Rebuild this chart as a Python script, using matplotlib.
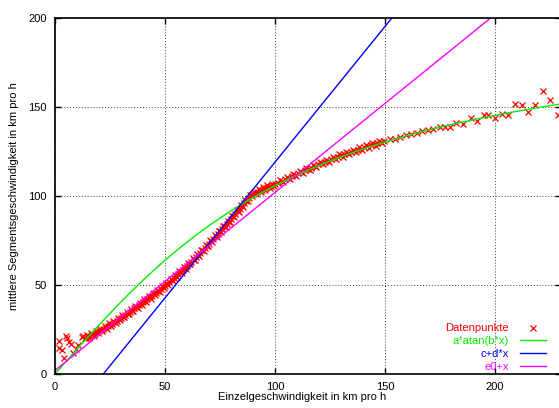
#!/usr/bin/env python

import numpy as np
import matplotlib
matplotlib.use('Agg')
import matplotlib.pyplot as plt

# measured points (Einzelgeschwindigkeit, mittlere Segmentgeschwindigkeit)
x_low = [1.8, 2.0, 3.0, 4.2, 5.0, 5.3, 6.5, 7.1, 8.3, 9.4, 10.6, 12.1, 12.6, 13.6]
y_low = [18.7, 14.5, 13.5, 8.8, 21.5, 20.5, 17.8, 16.9, 11.6, 13.9, 16.3, 21.0, 21.3, 20.2]

x_mid = [14, 15, 16, 17, 18, 19, 20, 21, 22, 23, 24, 25, 26, 27, 28, 29, 30,
         31, 32, 33, 34, 35, 36, 37, 38, 39, 40, 41, 42, 43, 44, 45, 46, 47,
         48, 49, 50, 51, 52, 53, 54, 55, 56, 57, 58, 59, 60, 61, 62, 63, 64,
         65, 66, 67, 68, 69, 70, 71, 72, 73, 74, 75, 76, 77, 78, 79, 80, 81,
         82, 83, 84, 85, 86, 87, 88, 89, 90, 91, 92, 93, 94, 95, 96, 97, 98,
         99, 100]
y_mid = [20.2, 20.8, 21.4, 22.3, 22.6, 23.5, 24.0, 24.6, 25.5, 25.9, 27.0,
         27.4, 28.3, 29.1, 29.8, 30.9, 31.6, 32.2, 33.4, 33.9, 35.1, 35.6,
         36.8, 37.5, 38.6, 39.2, 40.3, 41.1, 41.9, 43.0, 43.6, 44.9, 45.6,
         46.8, 47.5, 48.7, 49.6, 50.8, 51.6, 52.9, 53.7, 55.0, 55.9, 57.3,
         58.2, 59.6, 60.5, 62.0, 63.1, 64.3, 65.6, 66.8, 68.0, 69.4, 70.6,
         72.0, 73.3, 74.6, 76.0, 77.3, 78.7, 80.1, 81.4, 82.9, 84.2, 85.6,
         87.0, 88.5, 89.9, 91.4, 92.8, 94.3, 95.9, 97.4, 99.0, 100.3, 101.2,
         101.8, 102.5, 103.0, 103.6, 104.2, 104.6, 105.2, 105.6, 106.1, 106.6]

# second group of points in the dense band (half steps)
x_mid2 = [14.5, 15.5, 16.5, 17.5, 18.5, 19.5, 20.5, 21.5, 22.5, 23.5, 24.5,
          25.5, 26.5, 27.5, 28.5, 29.5, 30.5, 31.5, 32.5, 33.5, 34.5, 35.5,
          36.5, 37.5, 38.5, 39.5, 40.5, 41.5, 42.5, 43.5, 44.5, 45.5, 46.5,
          47.5, 48.5, 49.5, 50.5, 51.5, 52.5, 53.5, 54.5, 55.5, 56.5, 57.5,
          58.5, 59.5, 60.5, 61.5, 62.5, 63.5, 64.5, 65.5, 66.5, 67.5, 68.5,
          69.5, 70.5, 71.5, 72.5, 73.5, 74.5, 75.5, 76.5, 77.5, 78.5, 79.5,
          80.5, 81.5, 82.5, 83.5, 84.5, 85.5, 86.5, 87.5, 88.5, 89.5, 90.5,
          91.5, 92.5, 93.5, 94.5, 95.5, 96.5, 97.5, 98.5, 99.5]
y_mid2 = [21.7, 20.1, 23.0, 21.5, 24.3, 22.8, 25.5, 24.1, 26.9, 25.5, 28.4,
          26.9, 29.9, 28.5, 31.5, 30.3, 33.1, 31.8, 34.9, 33.5, 36.6, 35.2,
          38.4, 37.1, 40.1, 38.8, 41.9, 40.5, 43.7, 42.3, 45.5, 44.3, 47.4,
          46.2, 49.3, 48.2, 51.4, 50.2, 53.5, 52.3, 55.6, 54.5, 57.8, 56.8,
          60.1, 59.1, 62.5, 61.6, 64.9, 64.0, 67.4, 66.4, 69.9, 69.0, 72.5,
          71.7, 75.2, 74.3, 77.9, 77.0, 80.6, 79.8, 83.4, 82.6, 86.1, 85.3,
          89.0, 88.2, 91.9, 91.1, 94.8, 94.1, 97.9, 97.2, 100.5, 99.8, 102.5,
          101.2, 103.8, 102.3, 104.9, 103.4, 105.9, 104.4, 106.9, 105.4]

x_high = [101.5, 103, 104.5, 106, 107.5, 109, 110.5, 112, 113.5, 115, 116.5,
          118, 119.5, 121, 122.5, 124, 125.5, 127, 128.5, 130, 131.5, 133,
          134.5, 136, 137.5, 139, 140.5, 142, 143.5, 145, 146.5, 148, 149.5,
          152.3, 154.5, 156.8, 159.5, 162.0, 164.4, 166.7, 169.5, 172.0,
          175.0, 177.3, 179.5, 182.3, 185.3, 188.9, 192.0, 195.2, 197.0,
          200.0, 203.3, 206.0, 209.1, 212.1, 215.1, 218.2, 222.0, 225.0, 228.8]
y_high = [107.5, 108.4, 109.3, 110.2, 111.0, 111.9, 112.8, 113.6, 114.4,
          115.2, 116.0, 116.8, 117.7, 118.3, 119.0, 119.8, 120.6, 121.3,
          122.0, 122.8, 123.4, 124.1, 124.7, 125.4, 126.0, 126.6, 127.3,
          127.9, 128.5, 129.0, 129.6, 130.1, 130.8,
          131.8, 132.2, 133.0, 134.0, 134.8, 135.4, 136.7, 136.9, 137.4,
          139.0, 138.6, 138.6, 140.8, 140.4, 143.6, 142.3, 145.5, 145.5,
          143.6, 145.8, 145.5, 151.5, 151.1, 147.4, 151.1, 159.2, 153.9, 145.5]

x_high2 = [102.25, 103.75, 105.25, 106.75, 108.25, 109.75, 111.25, 112.75,
           114.25, 115.75, 117.25, 118.75, 120.25, 121.75, 123.25, 124.75,
           126.25, 127.75, 129.25, 130.75, 132.25, 133.75, 135.25, 136.75,
           138.25, 139.75, 141.25, 142.75, 144.25, 145.75, 147.25, 148.75]
y_high2 = [109.0, 107.9, 110.8, 109.6, 112.5, 111.4, 114.2, 113.0, 115.8,
           114.6, 117.4, 116.3, 119.0, 117.7, 120.4, 119.2, 122.0, 120.7,
           123.4, 122.1, 124.8, 123.4, 126.1, 124.7, 127.3, 126.0, 128.6,
           127.2, 129.8, 128.3, 130.9, 129.5]

# fit parameters
a, b = 127.0, 0.011
c, d = -33.5, 1.525
e0 = 2.0

ticks = [0, 50, 100, 150, 200]

plt.rcParams['font.family'] = ['Liberation Sans', 'DejaVu Sans']
plt.rcParams['font.size'] = 8

fig = plt.figure(figsize=(5.59, 4.08), dpi=100)
ax = fig.add_axes([55 / 559, 34 / 408, 506 / 559, 356 / 408])

xs = x_low + x_mid + x_mid2 + x_high + x_high2
ys = y_low + y_mid + y_mid2 + y_high + y_high2
ax.plot(xs, ys, 'x', color='#ff0000', markersize=5, markeredgewidth=0.9,
        label='Datenpunkte')

xf = np.linspace(0, 230, 400)
ax.plot(xf, a * np.arctan(b * xf), color='#00ee00', lw=1, label='a*atan(b*x)')
ax.plot(xf, c + d * xf, color='#0000ff', lw=1, label='c+d*x')
ax.plot(xf, e0 + xf, color='#ff00ff', lw=1, label='e0+x')

ax.set_xlim(0, 230)
ax.set_ylim(0, 200)
ax.set_xticks(ticks)
ax.set_yticks(ticks)
ax.grid(True, color='0.25', linestyle=(0, (1, 2)), lw=0.7)
ax.tick_params(direction='in', top=True, right=True, length=4, width=1,
               labelsize=8, colors='black', pad=6)
for s in ax.spines.values():
    s.set_linewidth(1.2)

fig.text(302 / 559, 1 - 397 / 408, 'Einzelgeschwindigkeit in km pro h',
         ha='center', va='center', fontsize=8)
fig.text(14 / 559, 1 - 196 / 408, 'mittlere Segmentsgeschwindigkeit in km pro h',
         ha='center', va='center', rotation=90, fontsize=8)

leg = ax.legend(loc='lower right', bbox_to_anchor=(548 / 559, 34 / 408),
                bbox_transform=fig.transFigure, frameon=False, markerfirst=False,
                handlelength=2.3, handletextpad=1.0, labelspacing=0.25,
                borderpad=0.2, borderaxespad=0, fontsize=8)
for txt, col in zip(leg.get_texts(), ['#ff0000', '#00ee00', '#0000ff', '#ff00ff']):
    txt.set_color(col)

fig.savefig('out.png', dpi=100)
